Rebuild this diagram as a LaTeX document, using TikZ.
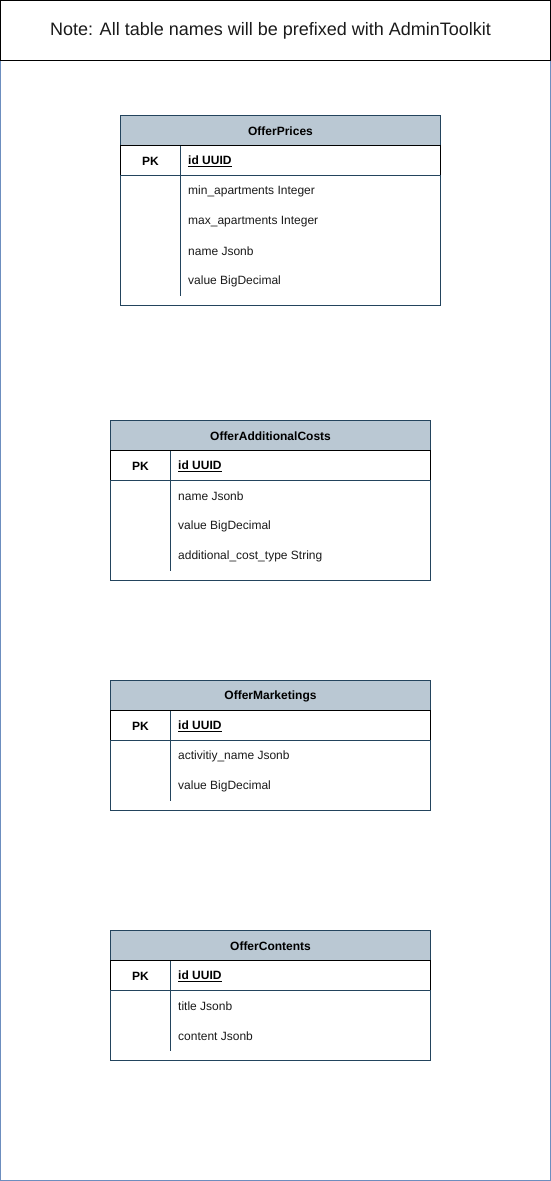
\documentclass[tikz,border=0pt]{standalone}
\usepackage{fontspec}
\setmainfont{Liberation Sans}
\definecolor{frameblue}{HTML}{6C8EBF}
\definecolor{tabstroke}{HTML}{23445D}
\definecolor{tabfill}{HTML}{BAC8D3}
\definecolor{txtgray}{HTML}{1A1A1A}
\tikzset{
  hdr/.style={draw=tabstroke, fill=tabfill, line width=1pt, minimum width=320pt, minimum height=30pt, inner sep=0pt, outer sep=0pt},
  hdrlbl/.style={inner sep=0pt, yshift=-1pt, font=\bfseries\fontsize{12}{14}\selectfont},
  pkrow/.style={draw=black, line width=1pt, minimum width=320pt, minimum height=30pt, inner sep=0pt, outer sep=0pt},
  bodyrow/.style={draw=tabstroke, line width=1pt, minimum width=320pt, inner sep=0pt, outer sep=0pt},
  pklbl/.style={inner sep=0pt, yshift=-1pt, font=\bfseries\fontsize{12}{14}\selectfont},
  fld/.style={anchor=west, inner sep=0pt, yshift=-1pt, text=txtgray, font=\fontsize{12}{14}\selectfont},
  idfld/.style={anchor=west, inner sep=0pt, yshift=-1pt, font=\bfseries\fontsize{12}{14}\selectfont},
  tabline/.style={draw=tabstroke, line width=1pt},
  notebox/.style={draw=black, line width=1pt, minimum width=550pt, minimum height=60pt, inner sep=0pt, outer sep=0pt},
  notelbl/.style={inner sep=0pt, font=\fontsize{18}{22}\selectfont, text=txtgray},
}
\newcommand{\ertable}[6]{% #1 id, #2 x, #3 y, #4 title, #5 rows count, #6 rows
  \node[hdr,anchor=north west] (#1-h) at (#2,#3) {};
  \node[hdrlbl] (#1-t) at (#1-h.center) {#4};
  \node[pkrow,anchor=north west] (#1-k) at (#1-h.south west) {};
  \node[bodyrow,minimum height={30*#5+10}, anchor=north west] (#1-b) at (#1-k.south west) {};
  \draw[tabstroke,line width=1pt] (#1-k.south west) -- (#1-k.south east);
  \node[pklbl] (#1-pk) at ([xshift=30pt]#1-k.west) {PK};
  \node[idfld] (#1-id) at ([xshift=67.5pt]#1-k.west) {\underline{id UUID}};
  \draw[tabline] ([xshift=60pt]#1-k.north west) -- ([xshift=60pt,yshift={-30*#5}]#1-b.north west);
  \foreach \t [count=\i] in {#6} {
    \node[fld] (#1-f\i) at ([xshift=67.5pt,yshift={-15-30*(\i-1)}]#1-b.north west) {\t};
  }
}
\begin{document}
\begin{tikzpicture}[x=1pt,y=-1pt]
\useasboundingbox (0,0) rectangle (551,1181);
\draw[frameblue,line width=1pt] (0.5,0.5) rectangle (550.5,1180.5);
\node[notebox,anchor=north west] (note) at (0.5,0.5) {};
\node[notelbl] (notetext) at ([xshift=-5pt,yshift=-0.5pt]note.center) {Note: All table names will be prefixed with AdminToolkit};
\ertable{p}{120.5}{115.5}{OfferPrices}{4}{min\_apartments Integer, max\_apartments Integer, name Jsonb, value BigDecimal}
\ertable{a}{110.5}{420.5}{OfferAdditionalCosts}{3}{name Jsonb, value BigDecimal, additional\_cost\_type String}
\ertable{m}{110.5}{680.5}{OfferMarketings}{2}{activitiy\_name Jsonb, value BigDecimal}
\ertable{c}{110.5}{930.5}{OfferContents}{2}{title Jsonb, content Jsonb}
\end{tikzpicture}
\end{document}
